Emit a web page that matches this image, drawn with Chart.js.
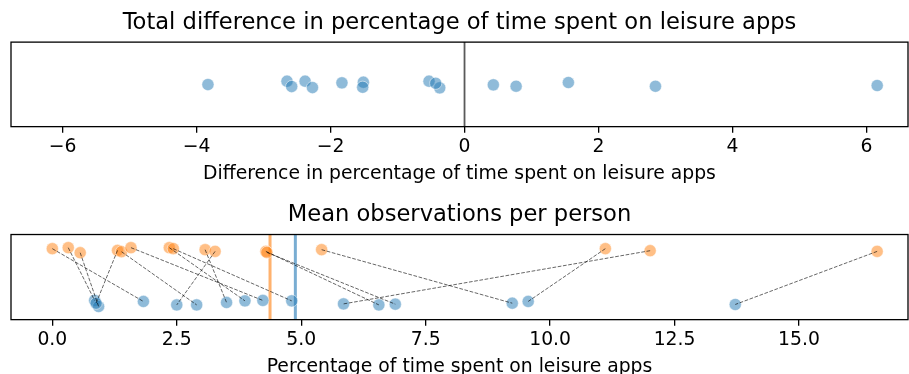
<!DOCTYPE html>
<html>
<head>
<meta charset="utf-8">
<script src="https://cdn.jsdelivr.net/npm/chart.js@4.4.1/dist/chart.umd.min.js"></script>
<style>
  html, body { margin: 0; padding: 0; background: #fff; width: 909px; height: 374px; overflow: hidden; }
  canvas { position: absolute; left: 0; }
  #diffChart { top: 0; }
  #meanChart { top: 190px; }
</style>
</head>
<body>
<canvas id="diffChart" width="909" height="185"></canvas>
<canvas id="meanChart" width="909" height="188"></canvas>
<script>
// Mean share of time (%) spent on leisure apps per person, two observation periods (paired by index)
const periodA = [0.00, 0.32, 0.56, 1.31, 1.39, 1.58, 2.35, 2.43, 3.07, 3.27, 4.29, 4.31, 5.41, 11.11, 12.01, 16.57];
const periodB = [1.83, 0.85, 0.93, 0.88, 2.90, 4.23, 3.87, 4.81, 3.50, 2.50, 6.56, 6.89, 9.24, 9.56, 5.85, 13.72];
// Per-person difference (period A minus period B)
const differences = [-1.83, -0.53, -0.37, 0.43, -1.51, -2.65, -1.52, -2.38, -0.43, 0.77, -2.27, -2.58, -3.83, 1.55, 6.16, 2.85];
// Strip-plot jitter for each point
const diffJitter = [0.037, 0.075, -0.082, -0.011, 0.051, 0.075, -0.068, 0.075, 0.027, -0.044, -0.075, -0.051, -0.004, 0.044, -0.027, -0.044];
const jitterA = [0.034, 0.053, -0.042, 0.002, -0.023, 0.053, 0.053, 0.034, 0.015, -0.017, -0.017, -0.036, 0.015, 0.034, -0.004, -0.017];
const jitterB = [0.042, 0.061, -0.053, 0.009, -0.023, 0.061, 0.053, 0.053, 0.023, -0.023, -0.023, -0.009, 0.009, 0.042, -0.004, -0.015];
// Axis ticks
const diffTicks = [-6, -4, -2, 0, 2, 4, 6];
const meanTicks = [0, 2.5, 5, 7.5, 10, 12.5, 15];

const BLUE = 'rgba(31,119,180,0.5)';
const ORANGE = 'rgba(255,127,14,0.5)';
const FONT = 'DejaVu Sans';
Chart.defaults.font.family = FONT;
Chart.defaults.color = '#000';
Chart.defaults.animation = false;

const mean = arr => arr.reduce((s, v) => s + v, 0) / arr.length;
const minusSign = v => (v < 0 ? '\u2212' + Math.abs(v) : String(v));

// Closed black frame around the plotting area
const framePlugin = {
  id: 'frame',
  afterDraw(chart) {
    const { ctx, chartArea: a } = chart;
    ctx.save();
    ctx.strokeStyle = '#000';
    ctx.lineWidth = 1.3;
    ctx.strokeRect(a.left, a.top, a.right - a.left, a.bottom - a.top);
    ctx.restore();
  }
};

function xScale(min, max, ticks, fmt, label) {
  return {
    type: 'linear',
    min, max,
    afterBuildTicks: s => { s.ticks = ticks.map(v => ({ value: v })); },
    grid: { drawOnChartArea: false, drawTicks: true, tickLength: 6, color: '#000', lineWidth: 1.3 },
    border: { display: false },
    ticks: { font: { size: 18.8, lineHeight: 1.0 }, color: '#000', padding: 5.5, maxRotation: 0, callback: fmt },
    title: { display: true, text: label, font: { size: 18.8 }, color: '#000', padding: { top: 0, bottom: 0 } }
  };
}

const hiddenY = (min, max) => ({
  type: 'linear', min, max, display: false,
  ticks: { display: false }, grid: { display: false }
});

function titleOpts(text, top) {
  return { display: true, text, font: { size: 22.6, weight: 'normal' }, color: '#000', padding: { top, bottom: 5.6 } };
}

const layoutOpts = { autoPadding: false, padding: { left: 11, right: 1, top: 0, bottom: 0 } };

const pointStyle = color => ({
  backgroundColor: color,
  borderColor: 'rgba(255,255,255,0.5)',
  borderWidth: 1,
  pointRadius: 6.1,
  showLine: false
});

// Top: per-person differences
new Chart(document.getElementById('diffChart'), {
  type: 'scatter',
  data: {
    datasets: [
      {
        ...pointStyle(BLUE),
        order: 1,
        data: differences.map((d, i) => ({ x: d, y: diffJitter[i] }))
      },
      {
        order: 2,
        showLine: true,
        pointRadius: 0,
        borderColor: '#5a5a5a',
        borderWidth: 1.8,
        data: [{ x: 0, y: -1 }, { x: 0, y: 1 }]
      }
    ]
  },
  options: {
    responsive: false,
    events: [],
    layout: layoutOpts,
    plugins: {
      legend: { display: false },
      tooltip: { enabled: false },
      title: titleOpts('Total difference in percentage of time spent on leisure apps', 9.4)
    },
    scales: {
      x: xScale(-6.77, 6.62, diffTicks, v => minusSign(v), 'Difference in percentage of time spent on leisure apps'),
      y: hiddenY(-1, 1)
    }
  },
  plugins: [framePlugin]
});

// Bottom: paired per-person means with dashed connectors and period averages
const connectors = periodA.map((a, i) => ({
  order: 0,
  showLine: true,
  pointRadius: 0,
  borderColor: 'rgba(0,0,0,0.6)',
  borderWidth: 1,
  borderDash: [3.7, 1.6],
  data: [{ x: a, y: 1 + jitterA[i] }, { x: periodB[i], y: jitterB[i] }]
}));

new Chart(document.getElementById('meanChart'), {
  type: 'scatter',
  data: {
    datasets: [
      ...connectors,
      { ...pointStyle(ORANGE), order: 1, data: periodA.map((v, i) => ({ x: v, y: 1 + jitterA[i] })) },
      { ...pointStyle(BLUE), order: 1, data: periodB.map((v, i) => ({ x: v, y: jitterB[i] })) },
      {
        order: 2, showLine: true, pointRadius: 0,
        borderColor: 'rgba(255,127,14,0.6)', borderWidth: 3,
        data: [{ x: mean(periodA), y: -0.3 }, { x: mean(periodA), y: 1.3 }]
      },
      {
        order: 2, showLine: true, pointRadius: 0,
        borderColor: 'rgba(31,119,180,0.6)', borderWidth: 3,
        data: [{ x: mean(periodB), y: -0.3 }, { x: mean(periodB), y: 1.3 }]
      }
    ]
  },
  options: {
    responsive: false,
    events: [],
    layout: layoutOpts,
    plugins: {
      legend: { display: false },
      tooltip: { enabled: false },
      title: titleOpts('Mean observations per person', 11.8)
    },
    scales: {
      x: xScale(-0.83, 17.19, meanTicks, v => v.toFixed(1), 'Percentage of time spent on leisure apps'),
      y: hiddenY(-0.3, 1.3)
    }
  },
  plugins: [framePlugin]
});
</script>
</body>
</html>
